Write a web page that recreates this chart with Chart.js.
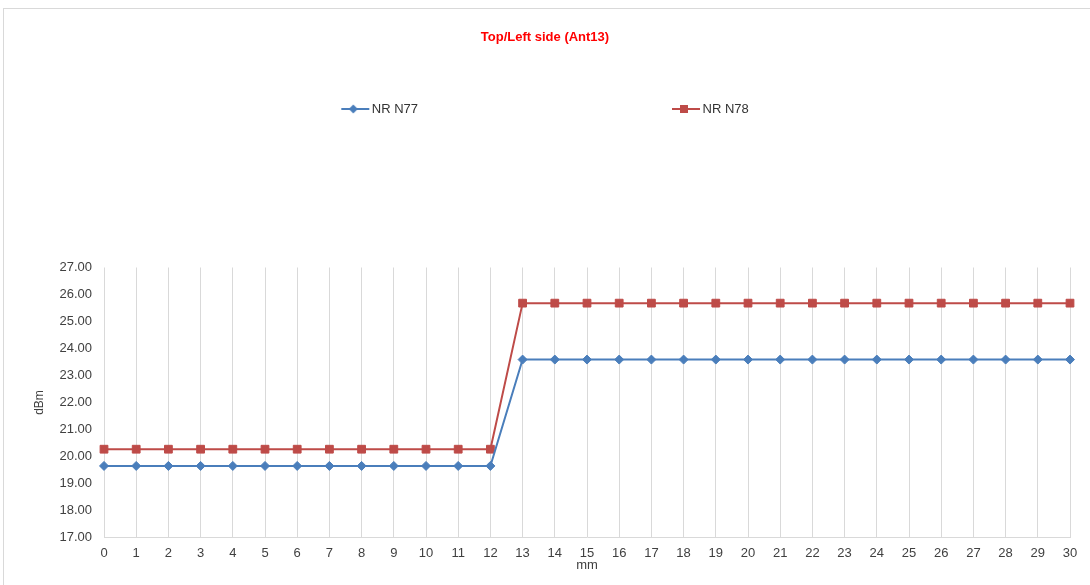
<!DOCTYPE html>
<html>
<head>
<meta charset="utf-8">
<title>Top/Left side (Ant13)</title>
<script src="https://cdn.jsdelivr.net/npm/chart.js@4"></script>
<style>
  html, body { margin: 0; padding: 0; background: #fff; overflow: hidden; }
  /* moldura cinza do gráfico original */
  #moldura { position: absolute; left: 3px; top: 8px; width: 1100px; height: 600px;
             border-top: 1px solid #d9d9d9; border-left: 1px solid #d9d9d9; }
  #caixa { position: absolute; left: 0; top: 0; width: 1090px; height: 585px; }
</style>
</head>
<body>
<div id="moldura"></div>
<div id="caixa"><canvas id="grafico"></canvas></div>
<script>
// Dados (distância em mm, potência em dBm)
const distancias = ["0", "1", "2", "3", "4", "5", "6", "7", "8", "9", "10",
                    "11", "12", "13", "14", "15", "16", "17", "18", "19", "20",
                    "21", "22", "23", "24", "25", "26", "27", "28", "29", "30"];
const nrN77 = [19.65, 19.65, 19.65, 19.65, 19.65, 19.65, 19.65, 19.65, 19.65, 19.65, 19.65,
               19.65, 19.65, 23.59, 23.59, 23.59, 23.59, 23.59, 23.59, 23.59, 23.59,
               23.59, 23.59, 23.59, 23.59, 23.59, 23.59, 23.59, 23.59, 23.59, 23.59];
const nrN78 = [20.27, 20.27, 20.27, 20.27, 20.27, 20.27, 20.27, 20.27, 20.27, 20.27, 20.27,
               20.27, 20.27, 25.68, 25.68, 25.68, 25.68, 25.68, 25.68, 25.68, 25.68,
               25.68, 25.68, 25.68, 25.68, 25.68, 25.68, 25.68, 25.68, 25.68, 25.68];
const eixoYMin = 17;
const eixoYMax = 27;

const azul = "#4a7ebb";
const vermelho = "#be4b48";
const fonte = "'Liberation Sans', Arial, sans-serif";

// amostra da legenda no estilo do Excel: linha com o marcador no meio
function amostraLegenda(cor, estilo) {
    const c = document.createElement("canvas");
    c.width = 36;
    c.height = 14;
    const g = c.getContext("2d");
    g.strokeStyle = cor;
    g.fillStyle = cor;
    g.lineWidth = 2;
    g.beginPath();
    g.moveTo(6, 7);
    g.lineTo(34, 7);
    g.stroke();
    if (estilo === "rect") {
        g.fillRect(14, 3, 8, 8);
    } else {
        g.beginPath();
        g.moveTo(18, 2.5);
        g.lineTo(22.5, 7);
        g.lineTo(18, 11.5);
        g.lineTo(13.5, 7);
        g.closePath();
        g.fill();
    }
    return c;
}
const amostras = [amostraLegenda(azul, "rectRot"), amostraLegenda(vermelho, "rect")];

// o padding grande da legenda separa os dois itens; sobe a caixa para a linha ficar em y ~108
const alturaLegenda = 102.5;
const posicaoLegenda = {
    id: "posicaoLegenda",
    afterLayout(chart) {
        const legenda = chart.legend;
        if (legenda) {
            legenda.top = alturaLegenda - legenda.options.labels.padding;
        }
    }
};

const ctx = document.getElementById("grafico").getContext("2d");
const grafico = new Chart(ctx, {
    type: "line",
    data: {
        labels: distancias,
        datasets: [{
            label: "NR N77",
            data: nrN77,
            borderColor: azul,
            backgroundColor: azul,
            borderWidth: 2,
            pointStyle: "rectRot",
            pointRadius: 4.5,
            pointBorderWidth: 1,
            tension: 0
        }, {
            label: "NR N78",
            data: nrN78,
            borderColor: vermelho,
            backgroundColor: vermelho,
            borderWidth: 2,
            pointStyle: "rect",
            pointRadius: 5.5,
            pointBorderWidth: 1,
            tension: 0
        }]
    },
    plugins: [posicaoLegenda],
    options: {
        responsive: true,
        maintainAspectRatio: false,
        animation: false,
        events: [],
        layout: { padding: { top: 0, left: 20, right: 20, bottom: 0 } },
        plugins: {
            title: {
                display: true,
                text: "Top/Left side (Ant13)",
                color: "#ff0000",
                font: { family: fonte, size: 13, weight: "bold" },
                padding: { top: 29.5, bottom: 0 }
            },
            legend: {
                position: "top",
                maxHeight: 222.4,
                labels: {
                    usePointStyle: true,
                    pointStyleWidth: 24,
                    padding: 254,
                    color: "#333333",
                    font: { family: fonte, size: 13 },
                    generateLabels(chart) {
                        const itens = Chart.defaults.plugins.legend.labels.generateLabels(chart);
                        itens.forEach((item, i) => { item.pointStyle = amostras[i]; });
                        return itens;
                    }
                }
            },
            tooltip: { enabled: false }
        },
        scales: {
            x: {
                grid: { color: "#d9d9d9", lineWidth: 1, drawTicks: false },
                border: { color: "#d9d9d9" },
                ticks: { color: "#404040", font: { family: fonte, size: 13 }, padding: 8, maxRotation: 0, autoSkip: false },
                title: { display: true, text: "mm", color: "#404040", font: { family: fonte, size: 13 }, padding: { top: 0, bottom: 12 } },
                afterFit(eixo) { eixo.height = 47.5; }
            },
            y: {
                min: eixoYMin,
                max: eixoYMax,
                grid: { display: false, drawTicks: false },
                border: { display: false },
                ticks: {
                    stepSize: 1,
                    padding: 12,
                    color: "#404040",
                    font: { family: fonte, size: 13 },
                    callback: (v) => Number(v).toFixed(2)
                },
                title: { display: true, text: "dBm", color: "#404040", font: { family: fonte, size: 12 }, padding: { top: 12.8, bottom: 0 } },
                afterFit(eixo) { eixo.width = 84; }
            }
        }
    }
});
</script>
</body>
</html>
